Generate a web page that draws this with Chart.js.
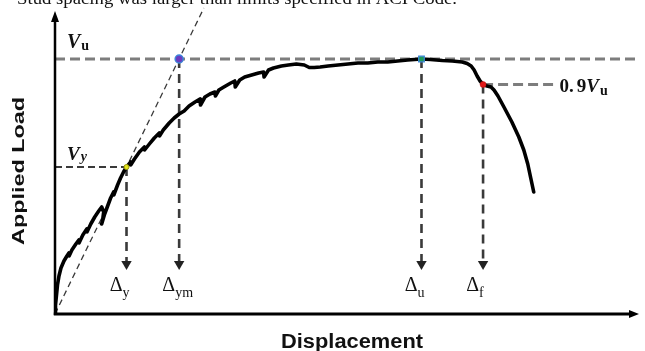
<!DOCTYPE html>
<html>
<head>
<meta charset="utf-8">
<script src="https://cdn.jsdelivr.net/npm/chart.js@4/dist/chart.umd.min.js"></script>
<style>
  html, body { margin: 0; padding: 0; background: #ffffff; }
  canvas { display: block; }
</style>
</head>
<body>
<canvas id="chart" width="645" height="351"></canvas>
<script>
// Measured load–displacement response of the specimen
const displacement = [
  0, 0.05, 0.15, 0.25, 0.4, 0.6, 0.9, 1.2, 1.4, 1.42, 1.7, 2.1, 2.4, 2.42, 2.8, 3.2, 3.22, 3.6, 4.0, 4.4,
  4.7, 4.9, 4.8, 4.7, 5.0, 5.3, 5.6, 5.9, 5.92, 6.3, 6.6, 6.9, 7.2, 7.6, 7.62, 8.0, 8.5, 9.0, 9.02, 9.5,
  10.0, 10.5, 10.52, 10.9, 11.5, 12.0, 12.5, 13.0, 13.5, 14.1, 14.6, 14.65, 15.1, 15.6, 16.1, 16.15, 16.5, 17.0, 17.7, 18.1,
  18.15, 18.6, 19.1, 19.8, 20.5, 21.0, 21.05, 21.5, 22.0, 22.8, 23.5, 24.3, 25.1, 25.6, 26.1, 26.7, 27.5, 28.5, 29.5, 30.5,
  31.5, 32.5, 33.5, 34.5, 35.5, 36.9, 37.8, 39.0, 40.0, 41.0, 41.5, 41.9, 42.2, 42.5, 42.8, 43.1, 43.5, 43.9, 44.2, 44.6,
  45.2, 46.0, 46.7, 47.2, 47.6, 47.9, 48.2
];
const load = [
  0, 0.9, 1.9, 2.9, 3.8, 4.6, 5.3, 5.8, 6.1, 5.8, 6.4, 7.0, 7.4, 7.1, 7.9, 8.5, 8.2, 9.0, 9.7, 10.3,
  10.7, 10.2, 9.4, 9.0, 10.0, 10.8, 11.6, 12.2, 11.9, 12.9, 13.6, 14.2, 14.7, 15.2, 14.9, 15.5, 16.2, 16.7, 16.4, 17.0,
  17.6, 18.1, 17.8, 18.4, 19.1, 19.6, 20.0, 20.3, 20.8, 21.2, 21.5, 20.9, 21.7, 22.0, 22.2, 21.8, 22.4, 22.7, 23.1, 23.3,
  22.7, 23.4, 23.7, 23.9, 24.1, 24.2, 23.7, 24.4, 24.6, 24.8, 24.9, 25.0, 24.9, 24.65, 24.65, 24.7, 24.8, 24.9, 25.0, 25.1,
  25.1, 25.2, 25.2, 25.3, 25.4, 25.5, 25.45, 25.35, 25.3, 25.2, 25.05, 24.8, 24.4, 23.8, 23.3, 22.95, 22.8, 22.7, 22.4, 21.8,
  20.7, 19.2, 17.7, 16.4, 15.0, 13.6, 12.2
];

// Characteristic points: yield, secant-at-peak, peak and failure
const keyDisp = [7.2, 12.5, 36.9, 43.1];          // Δy, Δym, Δu, Δf
const keyLoad = [14.7, 25.5, 25.5, 22.95];        // Vy, Vu, Vu, 0.9Vu
const keyNames = ['y', 'ym', 'u', 'f'];
const keyColors = ['#e6e61a', '#6a3cc0', '#1f9a5a', '#e01818'];

const peakLoad = 25.5;
const yieldLoad = 14.7;
const failLoad = 22.95;

const xAxisTitle = 'Displacement';
const yAxisTitle = 'Applied Load';
const captionText = 'Stud spacing was larger than limits specified in ACI Code.';

// Axis ranges
const xMax = 58.8;
const yMax = 30.6;

const curve = displacement.map((d, i) => ({ x: d, y: load[i] }));
const secantSlope = keyLoad[0] / keyDisp[0];

// Level at which the dashed drop lines end in an arrowhead
const dropEnd = 5.0;

const gridGrey = '#7d7d7d';
const darkDash = '#3a3a3a';

function segment(points, color, width, dash, extra) {
  return Object.assign({
    data: points,
    showLine: true,
    borderColor: color,
    borderWidth: width,
    borderDash: dash,
    pointRadius: 0,
    fill: false,
    tension: 0,
    order: 3
  }, extra || {});
}

const datasets = [
  // markers on top
  {
    data: keyDisp.map((d, i) => ({ x: d, y: keyLoad[i] })),
    showLine: false,
    pointStyle: ['circle', 'circle', 'rect', 'circle'],
    pointRadius: [2.5, 4, 4, 3],
    pointBackgroundColor: keyColors,
    pointBorderColor: ['#9a9a10', '#3f86d8', '#3f86d8', '#c01010'],
    pointBorderWidth: [1, 1.5, 1.2, 0.5],
    order: 0
  },
  // load–displacement curve
  {
    data: curve,
    showLine: true,
    borderColor: '#000000',
    borderWidth: 3.6,
    borderJoinStyle: 'round',
    borderCapStyle: 'round',
    pointRadius: 0,
    tension: 0,
    order: 1
  },
  // Vu level
  segment([{ x: 0, y: peakLoad }, { x: xMax, y: peakLoad }], gridGrey, 3, [10, 5]),
  // Vy level
  segment([{ x: 0, y: yieldLoad }, { x: keyDisp[0], y: yieldLoad }], darkDash, 1.8, [7, 4]),
  // 0.9Vu level
  segment([{ x: keyDisp[3], y: failLoad }, { x: 50.3, y: failLoad }], gridGrey, 3, [10, 5]),
  // secant stiffness line through the yield point
  segment([{ x: 0, y: 0 }, { x: yMax / secantSlope, y: yMax }], darkDash, 1.3, [6, 4], { clip: false })
];

// dashed drop lines with arrowheads at the lower end
keyDisp.forEach((d, i) => {
  datasets.push(segment(
    [{ x: d, y: keyLoad[i] }, { x: d, y: dropEnd }],
    darkDash, 2.6, [9, 6],
    {
      pointRadius: [0, 6],
      pointStyle: 'triangle',
      pointRotation: 180,
      pointBackgroundColor: '#222222',
      pointBorderColor: '#222222',
      pointBorderWidth: 0
    }
  ));
});

const annotate = {
  id: 'annotate',
  afterDraw(chart) {
    const ctx = chart.ctx;
    const xs = chart.scales.x, ys = chart.scales.y;
    const x0 = xs.getPixelForValue(0);
    const y0 = ys.getPixelForValue(0);
    const right = chart.chartArea.right;
    const top = ys.getPixelForValue(yMax) + 3;

    ctx.save();
    ctx.fillStyle = '#000';
    ctx.strokeStyle = '#000';

    // y axis with arrow
    ctx.lineWidth = 2.5;
    ctx.beginPath();
    ctx.moveTo(x0, y0 + 1);
    ctx.lineTo(x0, top + 8);
    ctx.stroke();
    ctx.beginPath();
    ctx.moveTo(x0, top);
    ctx.lineTo(x0 - 4, top + 11);
    ctx.lineTo(x0 + 4, top + 11);
    ctx.closePath();
    ctx.fill();

    // x axis with arrow
    ctx.lineWidth = 3;
    ctx.beginPath();
    ctx.moveTo(x0 - 1.2, y0);
    ctx.lineTo(right - 8, y0);
    ctx.stroke();
    ctx.beginPath();
    ctx.moveTo(right, y0);
    ctx.lineTo(right - 10, y0 - 4);
    ctx.lineTo(right - 10, y0 + 4);
    ctx.closePath();
    ctx.fill();

    // axis titles
    ctx.fillStyle = '#111';
    ctx.font = 'bold 20px "Liberation Sans", Arial, sans-serif';
    ctx.textBaseline = 'alphabetic';
    ctx.textAlign = 'center';
    let w = ctx.measureText(xAxisTitle).width;
    ctx.save();
    ctx.translate((x0 + right) / 2 + 5, 348);
    ctx.scale(142 / w, 1);
    ctx.fillText(xAxisTitle, 0, 0);
    ctx.restore();

    ctx.font = 'bold 16px "Liberation Sans", Arial, sans-serif';
    w = ctx.measureText(yAxisTitle).width;
    ctx.save();
    ctx.translate(23.5, 171);
    ctx.rotate(-Math.PI / 2);
    ctx.scale(148 / w, 1);
    ctx.fillText(yAxisTitle, 0, 0);
    ctx.restore();

    // caption line running above the plot
    ctx.textAlign = 'left';
    ctx.font = '17px "Liberation Serif", "Times New Roman", serif';
    w = ctx.measureText(captionText).width;
    ctx.save();
    ctx.translate(17, 4);
    ctx.scale(440 / w, 1);
    ctx.fillText(captionText, 0, 0);
    ctx.restore();

    const serifB = (s) => 'bold ' + s + 'px "Liberation Serif", serif';
    const serifBI = (s) => 'italic bold ' + s + 'px "Liberation Serif", serif';
    const serif = (s) => s + 'px "Liberation Serif", serif';

    // V_u next to the load axis
    const yVu = ys.getPixelForValue(peakLoad);
    ctx.font = serifBI(20);
    ctx.fillText('V', x0 + 12, yVu - 11);
    let vw = ctx.measureText('V').width;
    ctx.font = serifB(14);
    ctx.fillText('u', x0 + 12 + vw + 1, yVu - 9);

    // V_y
    const yVy = ys.getPixelForValue(yieldLoad);
    ctx.font = serifBI(19);
    ctx.fillText('V', x0 + 12, yVy - 7);
    vw = ctx.measureText('V').width;
    ctx.font = serifBI(14);
    ctx.fillText('y', x0 + 12 + vw + 1, yVy - 6);

    // 0.9 V_u at the end of the failure level line
    const yF = ys.getPixelForValue(failLoad);
    let tx = xs.getPixelForValue(50.3) + 5;
    ctx.font = serifB(19);
    ctx.fillText('0.', tx, yF + 7);
    tx += ctx.measureText('0.').width + 3;
    ctx.fillText('9', tx, yF + 7);
    tx += ctx.measureText('9').width;
    ctx.font = serifBI(19);
    ctx.fillText('V', tx, yF + 7);
    tx += ctx.measureText('V').width + 1;
    ctx.font = serifB(14);
    ctx.fillText('u', tx, yF + 10);

    // Δ labels under the drop arrows
    keyDisp.forEach((d, i) => {
      const ax = xs.getPixelForValue(d) - 4;
      ctx.font = serif(20);
      ctx.textAlign = 'right';
      ctx.fillText('\u0394', ax, 291);
      ctx.textAlign = 'left';
      ctx.font = serif(14);
      ctx.fillText(keyNames[i], ax, 297);
    });

    ctx.restore();
  }
};

new Chart(document.getElementById('chart'), {
  type: 'scatter',
  data: { datasets },
  options: {
    responsive: false,
    devicePixelRatio: 1,
    animation: false,
    events: [],
    layout: { padding: { left: 55, right: 2, top: 8, bottom: 37 } },
    plugins: { legend: { display: false }, tooltip: { enabled: false } },
    scales: {
      x: { type: 'linear', min: 0, max: xMax, display: false },
      y: { type: 'linear', min: 0, max: yMax, display: false }
    }
  },
  plugins: [annotate]
});
</script>
</body>
</html>
